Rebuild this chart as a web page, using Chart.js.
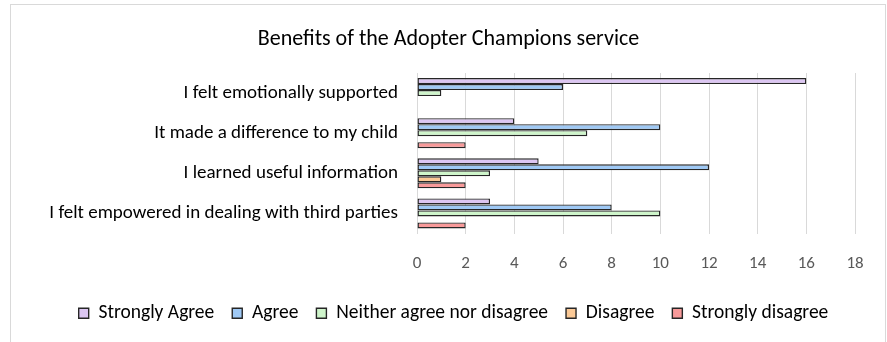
<!DOCTYPE html>
<html>
<head>
<meta charset="utf-8">
<script src="https://cdn.jsdelivr.net/npm/chart.js@4"></script>
<style>
  html, body { margin: 0; padding: 0; background: #fff; }
  #wrap { position: relative; width: 887px; height: 342px; }
</style>
</head>
<body>
<div id="wrap"><canvas id="chart" width="887" height="342"></canvas></div>
<script>
// statements shown on the vertical axis, top to bottom
const statements = [
  'I felt emotionally supported',
  'It made a difference to my child',
  'I learned useful information',
  'I felt empowered in dealing with third parties'
];

// responses per statement
const stronglyAgree = [16, 4, 5, 3];
const agree = [6, 10, 12, 8];
const neither = [1, 7, 3, 10];
const disagree = [0, 0, 1, 0];
const stronglyDisagree = [0, 2, 2, 2];

const seriesNames = ['Strongly Agree', 'Agree', 'Neither agree nor disagree', 'Disagree', 'Strongly disagree'];
const seriesColors = ['#dcc6f2', '#9fc9f5', '#cff5cb', '#fbc996', '#f89a9a'];

const fontFamily = "Carlito, Calibri, Lato, sans-serif";

// light grey frame round the whole chart, like the Excel chart border
const framePlugin = {
  id: 'frame',
  afterLayout(chart) {
    // the title and legend sit centred on the whole frame, not the padded area
    if (chart.titleBlock) {
      chart.titleBlock.left += 32;
    }
    if (chart.legend) {
      chart.legend.left += 21;
      chart.legend.right += 21;
    }
  },
  beforeDraw(chart) {
    const ctx = chart.ctx;
    ctx.save();
    ctx.fillStyle = '#ffffff';
    ctx.fillRect(0, 0, chart.width, chart.height);
    ctx.strokeStyle = '#d9d9d9';
    ctx.lineWidth = 1;
    ctx.strokeRect(10.5, 4.5, 875, 345);
    ctx.restore();
  }
};

const values = [stronglyAgree, agree, neither, disagree, stronglyDisagree];
const datasets = seriesNames.map((name, i) => ({
  label: name,
  data: values[i],
  backgroundColor: seriesColors[i],
  borderColor: '#262626',
  borderWidth: 1.4,
  borderSkipped: false,
  categoryPercentage: 0.75,
  barPercentage: 1.0
}));

const ctx = document.getElementById('chart').getContext('2d');
new Chart(ctx, {
  type: 'bar',
  data: { labels: statements, datasets: datasets },
  plugins: [framePlugin],
  options: {
    indexAxis: 'y',
    responsive: false,
    animation: false,
    layout: { padding: { left: 10, right: 32, top: 0, bottom: 9 } },
    scales: {
      x: {
        min: 0,
        max: 18,
        ticks: { stepSize: 2, color: '#595959', padding: 20, font: { family: fontFamily, size: 17 } },
        grid: { color: '#d9d9d9', drawTicks: false },
        border: { display: false },
        afterFit(scale) { scale.height = 52; }
      },
      y: {
        ticks: { color: '#000000', padding: 11, font: { family: fontFamily, size: 19 } },
        grid: { display: false },
        border: { display: false },
        afterFit(scale) { scale.width = 407; }
      }
    },
    plugins: {
      title: {
        display: true,
        text: 'Benefits of the Adopter Champions service',
        color: '#000000',
        font: { family: fontFamily, size: 22, weight: 'normal' },
        padding: { top: 26, bottom: 20.6 }
      },
      legend: {
        position: 'bottom',
        labels: {
          boxWidth: 10,
          boxHeight: 10,
          padding: 18,
          color: '#000000',
          font: { family: fontFamily, size: 19.5 }
        }
      },
      tooltip: { enabled: false }
    }
  }
});
</script>
</body>
</html>
